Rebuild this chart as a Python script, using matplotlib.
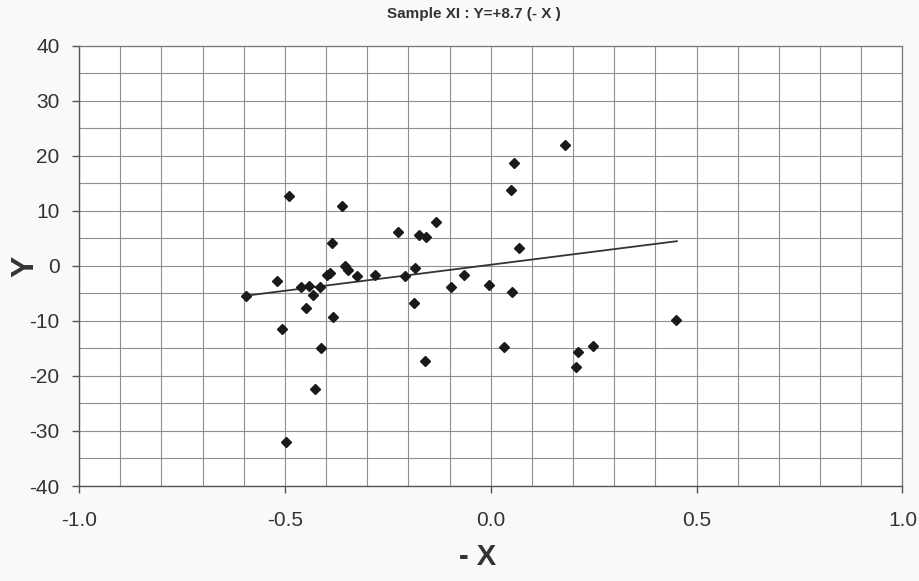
import matplotlib
matplotlib.use("Agg")
import matplotlib.pyplot as plt
import numpy as np

plt.rcParams['axes.unicode_minus'] = False

# punkty
x_vals = [-0.594, -0.519, -0.506, -0.498, -0.490, -0.460, -0.448, -0.441, -0.432,
          -0.428, -0.414, -0.412, -0.397, -0.390, -0.386, -0.382, -0.361, -0.354,
          -0.347, -0.325, -0.280, -0.225, -0.209, -0.186, -0.184, -0.175, -0.159,
          -0.157, -0.134, -0.096, -0.066, -0.005, 0.031, 0.048, 0.051, 0.056,
          0.068, 0.181, 0.206, 0.212, 0.248, 0.450]
y_vals = [-5.4, -2.7, -11.5, -32.0, 12.7, -3.9, -7.7, -3.6, -5.3,
          -22.4, -3.8, -15.0, -1.6, -1.2, 4.2, -9.3, 10.9, 0.0,
          -0.7, -1.8, -1.6, 6.2, -1.9, -6.7, -0.3, 5.7, -17.3,
          5.2, 8.0, -3.9, -1.6, -3.5, -14.8, 13.8, -4.7, 18.7,
          3.3, 22.0, -18.3, -15.6, -14.5, -9.8]

# linia trendu (końce)
line_x = [-0.594, 0.452]
line_y = [-5.4, 4.5]

x_ticks = [-1.0, -0.5, 0.0, 0.5, 1.0]
y_ticks = [-40, -30, -20, -10, 0, 10, 20, 30, 40]

fig = plt.figure(figsize=(9.19, 5.81), dpi=100)
fig.patch.set_facecolor('#f9f9f9')
ax = fig.add_axes([0.086, 0.1635, 0.896, 0.7575])
ax.set_facecolor('white')

ax.plot(line_x, line_y, color='#333333', linewidth=1.3, zorder=3)
ax.plot(x_vals, y_vals, linestyle='None', marker='D', markersize=5.5,
        color='#1a1a1a', zorder=4)

ax.set_xlim(-1.0, 1.0)
ax.set_ylim(-40, 40)
ax.set_xticks(x_ticks)
ax.set_xticklabels([f"{v:.1f}" for v in x_ticks])
ax.set_yticks(y_ticks)
ax.set_xticks(np.arange(-1.0, 1.01, 0.1), minor=True)
ax.set_yticks(np.arange(-40, 41, 5), minor=True)
ax.grid(True, which='both', color='#909090', linewidth=0.8)
ax.set_axisbelow(True)

for s in ['top', 'right']:
    ax.spines[s].set_color('#777777')
    ax.spines[s].set_linewidth(0.9)
for s in ['left', 'bottom']:
    ax.spines[s].set_color('#555555')
    ax.spines[s].set_linewidth(1.0)

ax.tick_params(axis='both', which='major', length=5, width=1, color='#555555',
               labelsize=15, labelcolor='#333333')
ax.tick_params(axis='x', which='major', pad=13)
ax.tick_params(axis='y', which='major', pad=9)
ax.tick_params(which='minor', length=0)
for lab in ax.get_xticklabels() + ax.get_yticklabels():
    lab.set_family(['Liberation Sans', 'DejaVu Sans'])

fig.text(474 / 919, 1 - 14 / 581, "Sample XI : Y=+8.7 (- X )", ha='center', va='center',
         fontsize=11, fontweight='bold', color='#333333',
         family=['Liberation Sans', 'DejaVu Sans'])
fig.text(478 / 919, 1 - 557 / 581, "- X", ha='center', va='center',
         fontsize=21, fontweight='bold', color='#333333',
         family=['Liberation Sans', 'DejaVu Sans'])
fig.text(25 / 919, 1 - 266 / 581, "Y", ha='center', va='center', rotation=90,
         fontsize=23, fontweight='bold', color='#333333',
         family=['Liberation Sans', 'DejaVu Sans'])

fig.savefig("out.png", dpi=100, facecolor=fig.get_facecolor())
